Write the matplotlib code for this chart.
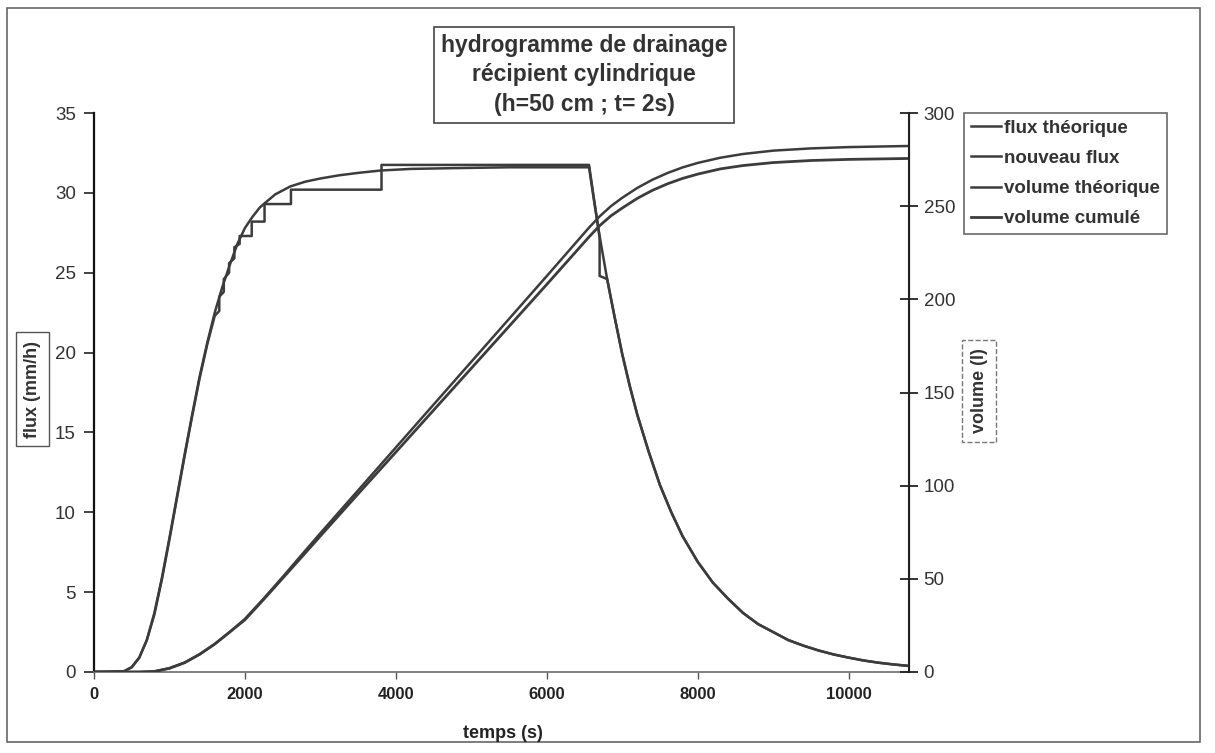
import matplotlib
matplotlib.use("Agg")
import matplotlib.pyplot as plt
from matplotlib import font_manager
from matplotlib.patches import Rectangle

# flux theorique (mm/h) en fonction du temps (s)
t_flux = [0, 200, 400, 500, 600, 700, 800, 900, 1000, 1100, 1200, 1300, 1400, 1500,
          1600, 1700, 1800, 1900, 2000, 2100, 2200, 2300, 2400, 2600, 2800, 3000, 3250,
          3500, 3800, 4200, 4800, 5500, 6200, 6560, 6620, 6700, 6800, 6900, 7000, 7100,
          7200, 7350, 7500, 7650, 7800, 8000, 8200, 8400, 8600, 8800, 9000, 9200, 9400,
          9600, 9800, 10000, 10200, 10400, 10600, 10800]
flux_theo = [0, 0, 0.05, 0.3, 0.9, 2.0, 3.7, 5.9, 8.4, 11.0, 13.6, 16.1, 18.5, 20.6,
             22.5, 24.1, 25.5, 26.8, 27.8, 28.5, 29.1, 29.5, 29.9, 30.4, 30.7, 30.9, 31.1,
             31.25, 31.4, 31.5, 31.55, 31.6, 31.6, 31.6, 29.7, 27.3, 24.6, 22.2, 19.9, 17.9,
             16.1, 13.8, 11.7, 10.0, 8.5, 6.9, 5.6, 4.6, 3.7, 3.0, 2.5, 2.0, 1.65,
             1.35, 1.1, 0.9, 0.72, 0.58, 0.47, 0.38]

# nouveau flux (mesure en escalier)
t_nouv = [0, 400, 500, 600, 700, 800, 900, 1000, 1100, 1200, 1300, 1400, 1500, 1600,
          1660, 1660, 1720, 1720, 1790, 1790, 1860, 1860, 1930, 1930, 2090, 2090, 2260,
          2260, 2610, 2610, 3810, 3810, 6560, 6700, 6700, 6800, 6900, 7000, 7100, 7200,
          7350, 7500, 7650, 7800, 8000, 8200, 8400, 8600, 8800, 9000, 9200, 9400, 9600,
          9800, 10000, 10200, 10400, 10600, 10800]
flux_nouv = [0, 0.05, 0.3, 0.9, 2.0, 3.6, 5.8, 8.3, 10.9, 13.5, 16.0, 18.4, 20.5, 22.3,
             22.6, 23.5, 23.8, 24.6, 25.0, 25.6, 25.9, 26.6, 26.8, 27.3, 27.3, 28.2, 28.2,
             29.3, 29.3, 30.2, 30.2, 31.75, 31.75, 27.2, 24.8, 24.6, 22.2, 19.9, 17.9, 16.1,
             13.8, 11.7, 10.0, 8.5, 6.9, 5.6, 4.6, 3.7, 3.0, 2.5, 2.0, 1.65, 1.35,
             1.1, 0.9, 0.72, 0.58, 0.47, 0.38]

# volumes (l)
t_vol = [0, 600, 800, 1000, 1200, 1400, 1600, 1800, 2000, 2250, 2500, 2750, 3000, 3500,
         4000, 4500, 5000, 5500, 6000, 6560, 6700, 6850, 7000, 7200, 7400, 7600, 7800,
         8000, 8300, 8600, 9000, 9500, 10000, 10800]
vol_theo = [0, 0, 0.3, 2, 5, 9.5, 15, 21.5, 28.5, 39.5, 51, 62.8, 74.5, 97.5,
            120.5, 143.5, 166.5, 189.5, 212.5, 238.5, 244.5, 250, 254.5, 259.8, 264.2,
            267.8, 270.8, 273.2, 276.0, 278.0, 279.8, 281.0, 281.7, 282.3]
vol_cum = [0, 0, 0.3, 2, 5, 9.5, 15, 21.5, 28, 39, 50.3, 61.6, 73, 95.6,
           118, 140.5, 163, 185.5, 208, 233.5, 239.5, 244.8, 249, 254.2, 258.5,
           262, 264.9, 267.2, 270.0, 271.8, 273.4, 274.5, 275.1, 275.6]

x_ticks = [0, 2000, 4000, 6000, 8000, 10000]
flux_ticks = [0, 5, 10, 15, 20, 25, 30, 35]
vol_ticks = [0, 50, 100, 150, 200, 250, 300]

names = {f.name for f in font_manager.fontManager.ttflist}
plt.rcParams["font.family"] = ["Liberation Sans", "DejaVu Sans"]
narrow = "Liberation Sans Narrow" if "Liberation Sans Narrow" in names else "Liberation Sans"

W, H = 1215, 753
gris = "#3c3c3c"

fig = plt.figure(figsize=(W / 100, H / 100), dpi=100)
ax = fig.add_axes([94 / W, 1 - 672 / H, (909 - 94) / W, (672 - 113) / H])
ax2 = ax.twinx()

l1, = ax.plot(t_flux, flux_theo, color=gris, lw=1.8, label="flux théorique")
l2, = ax.plot(t_nouv, flux_nouv, color=gris, lw=1.8, label="nouveau flux")
l3, = ax2.plot(t_vol, vol_theo, color=gris, lw=1.8, label="volume théorique")
l4, = ax2.plot(t_vol, vol_cum, color=gris, lw=2.0, label="volume cumulé")

ax.set_xlim(0, 10800)
ax.set_ylim(0, 35)
ax2.set_ylim(0, 300)
ax.set_xticks(x_ticks)
ax.set_yticks(flux_ticks)
ax2.set_yticks(vol_ticks)

for a in (ax, ax2):
    a.spines["top"].set_visible(False)
ax.spines["left"].set_color("#111111")
ax.spines["left"].set_linewidth(1.6)
ax.spines["bottom"].set_color("#777777")
ax.spines["bottom"].set_linewidth(1.3)
ax2.spines["right"].set_color("#222222")
ax2.spines["right"].set_linewidth(1.5)
ax2.spines["left"].set_visible(False)
ax2.spines["bottom"].set_visible(False)

ax.tick_params(axis="y", direction="out", length=7, width=1.2, colors="#222222",
               labelsize=13.5, pad=6, labelcolor="#333333")
ax.tick_params(axis="x", direction="out", length=5, width=1.0, colors="#555555",
               pad=6, labelcolor="#222222")
ax2.tick_params(axis="y", direction="inout", length=13, width=1.3, colors="#222222",
                labelsize=13.5, pad=4, labelcolor="#333333")
for lab in ax.get_xticklabels():
    lab.set_fontfamily(narrow)
    lab.set_fontweight("bold")
    lab.set_fontsize(12)

fig.text(503 / W, 1 - 733 / H, "temps (s)", ha="center", va="center",
         fontsize=13, fontweight="bold", family=narrow, color="#222222")

fig.text(32.5 / W, 1 - 389 / H, "flux (mm/h)", rotation=90, ha="center", va="center",
         fontsize=13, fontweight="bold", color="#333333",
         bbox=dict(boxstyle="square,pad=0.45", fc="white", ec="#555555", lw=1.0))
fig.text(979 / W, 1 - 391 / H, "volume (l)", rotation=90, ha="center", va="center",
         fontsize=13, fontweight="bold", color="#333333",
         bbox=dict(boxstyle="square,pad=0.45", fc="white", ec="#777777", lw=1.0, ls="--"))

fig.text(584 / W, 1 - 75 / H,
         "hydrogramme de drainage\nrécipient cylindrique\n(h=50 cm ; t= 2s)",
         ha="center", va="center", fontsize=16.5, fontweight="bold", color="#333333",
         linespacing=1.38,
         bbox=dict(boxstyle="square,pad=0.3", fc="white", ec="#444444", lw=1.2))

leg = fig.legend(handles=[l1, l2, l3, l4], loc="upper left",
                 bbox_to_anchor=(964 / W, 1 - 113 / H), borderaxespad=0,
                 fancybox=False, frameon=True, handlelength=1.6, handletextpad=0.2,
                 borderpad=0.35, labelspacing=0.7, prop={"size": 13.5, "weight": "bold"})
leg.get_frame().set_edgecolor("#444444")
leg.get_frame().set_linewidth(1.2)
for txt in leg.get_texts():
    txt.set_color("#333333")

# cadre de la figure
fig.patches.append(Rectangle((7 / W, 1 - 742 / H), (1200 - 7) / W, (742 - 8) / H,
                             transform=fig.transFigure, fill=False, ec="#666666",
                             lw=1.2))

fig.savefig("out.png", dpi=100, facecolor="white")
